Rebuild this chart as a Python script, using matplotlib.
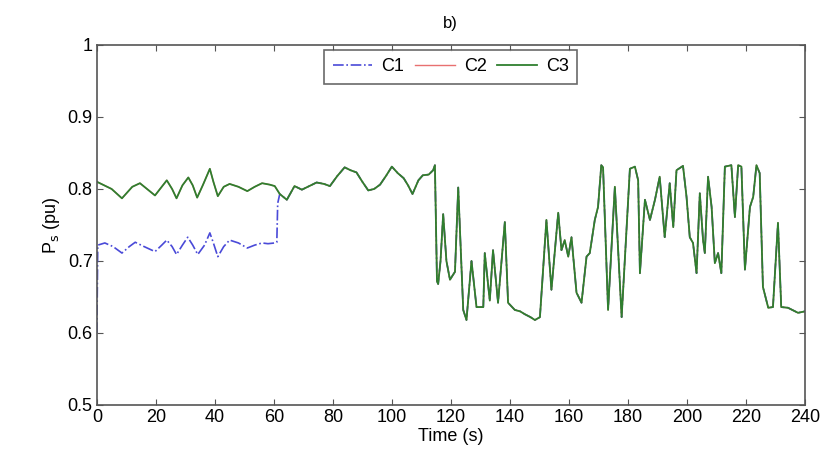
import matplotlib.pyplot as plt
import numpy as np

plt.rcParams['font.family'] = ['Liberation Sans', 'DejaVu Sans']

# C3 (C2 lies underneath it)
t_c3 = [0, 2.5, 5, 8.5, 12, 14.6, 17, 19.7, 22, 23.7, 25.5, 27, 29, 31, 32.5, 34, 36, 38.3, 39.5, 41,
        43, 45, 48, 51, 53.5, 56, 58.6, 60.3, 62, 64.4, 67, 69.5, 72, 74.5, 77, 79, 81.5, 84, 86, 88,
        90, 92, 94, 96, 98, 100, 102, 104, 105.5, 107, 109, 110.5, 112.5, 114, 114.6, 115.3, 115.7,
        116.5, 117.4, 118.5, 119.7, 121.4, 122.5, 124.2, 125.3, 127.0, 128.7, 131, 131.5, 133.2, 134.3,
        136, 138.3, 139.4, 141.7, 143.5, 145.1, 147, 148.5, 150.2, 152.4, 154.1, 156.4, 157.5, 158.6,
        159.8, 160.9, 162.6, 164.3, 166, 167.1, 168.8, 169.9, 171, 171.6, 173.3, 175.6, 177.9, 180.7,
        182.4, 183.5, 184.1, 185.8, 187.5, 189.2, 190.8, 192.5, 194.2, 195.4, 196.5, 198.7, 199.9, 201,
        202.1, 203.3, 204.4, 205.5, 206.1, 207.2, 208.4, 209.5, 210.6, 211.7, 212.9, 215.1, 216.3,
        217.4, 218.5, 219.7, 221.4, 222.5, 223.6, 224.7, 225.8, 227.6, 229.2, 230.9, 232, 234.3,
        237.7, 240]
p_c3 = [0.810, 0.805, 0.800, 0.787, 0.803, 0.808, 0.800, 0.791, 0.803, 0.812, 0.800, 0.787, 0.805,
        0.816, 0.805, 0.788, 0.806, 0.828, 0.810, 0.790, 0.803, 0.807, 0.803, 0.797, 0.803, 0.808,
        0.806, 0.804, 0.793, 0.785, 0.804, 0.799, 0.804, 0.809, 0.807, 0.804, 0.818, 0.830, 0.826,
        0.823, 0.810, 0.798, 0.800, 0.806, 0.818, 0.831, 0.822, 0.815, 0.805, 0.793, 0.812, 0.819,
        0.820, 0.826, 0.833, 0.672, 0.668, 0.700, 0.765, 0.700, 0.674, 0.685, 0.802, 0.632, 0.618,
        0.700, 0.636, 0.636, 0.711, 0.645, 0.715, 0.642, 0.754, 0.642, 0.632, 0.630, 0.626, 0.622,
        0.618, 0.622, 0.757, 0.660, 0.767, 0.715, 0.729, 0.706, 0.733, 0.656, 0.642, 0.706, 0.711,
        0.757, 0.775, 0.833, 0.830, 0.632, 0.803, 0.622, 0.828, 0.831, 0.812, 0.683, 0.785, 0.757,
        0.785, 0.817, 0.733, 0.808, 0.747, 0.826, 0.832, 0.789, 0.733, 0.725, 0.683, 0.794, 0.729,
        0.711, 0.817, 0.775, 0.697, 0.711, 0.683, 0.831, 0.833, 0.761, 0.833, 0.831, 0.688, 0.775,
        0.789, 0.833, 0.822, 0.664, 0.635, 0.636, 0.753, 0.636, 0.635, 0.628, 0.630]

# C1 differs only during the first minute
t_c1 = [0, 0.3, 2.7, 5.5, 8.5, 11, 13, 16, 19.7, 22, 23.7, 25.5, 27, 29, 30.8, 32.5, 34.2, 36.5,
        38.3, 39.5, 41, 43, 45, 48, 51, 53.5, 56, 58, 60.3, 61, 61.3]
p_c1 = [0.60, 0.722, 0.725, 0.720, 0.711, 0.720, 0.726, 0.720, 0.713, 0.722, 0.729, 0.720, 0.709,
        0.722, 0.733, 0.722, 0.709, 0.722, 0.739, 0.725, 0.706, 0.720, 0.729, 0.725, 0.718, 0.722,
        0.725, 0.724, 0.725, 0.726, 0.780]

t_c3 = np.array(t_c3)
p_c3 = np.array(p_c3)
after = t_c3 > 61.3
t1 = np.concatenate([t_c1, t_c3[after]])
p1 = np.concatenate([p_c1, p_c3[after]])

fig = plt.figure(figsize=(8.28, 4.61), dpi=100)
ax = fig.add_axes([0.117, 0.1215, 0.855, 0.781])

ax.plot(t1, p1, color='#4a4ad8', linestyle='-.', linewidth=1.2, label='C1')
ax.plot(t_c3, p_c3, color='#e87070', linestyle='-', linewidth=1.0, label='C2')
ax.plot(t_c3, p_c3, color='#2f7f2f', linestyle='-', linewidth=1.3, label='C3')

ax.set_xlim(0, 240)
ax.set_ylim(0.5, 1)
ax.set_xticks(np.arange(0, 241, 20))
ax.set_yticks([0.5, 0.6, 0.7, 0.8, 0.9, 1])
ax.set_yticklabels(['0.5', '0.6', '0.7', '0.8', '0.9', '1'])
ax.tick_params(direction='in', top=True, right=True, labelsize=13, length=4,
               color='#555555', pad=3)
for s in ax.spines.values():
    s.set_color('#555555')
    s.set_linewidth(1.2)

ax.set_xlabel('Time (s)', fontsize=13, labelpad=1)
ax.set_ylabel('P$_{\\rm s}$ (pu)', fontsize=13, labelpad=4)
ax.set_title('b)', fontsize=12, pad=12)

leg = ax.legend(loc='upper center', ncol=3, fontsize=13, frameon=True, fancybox=False,
                handlelength=2.2, columnspacing=0.6, handletextpad=0.5,
                borderpad=0.45, borderaxespad=0.3, bbox_to_anchor=(0.5, 1.0))
leg.get_frame().set_edgecolor('#444444')
leg.get_frame().set_linewidth(1.2)

fig.savefig('out.png', dpi=100)
